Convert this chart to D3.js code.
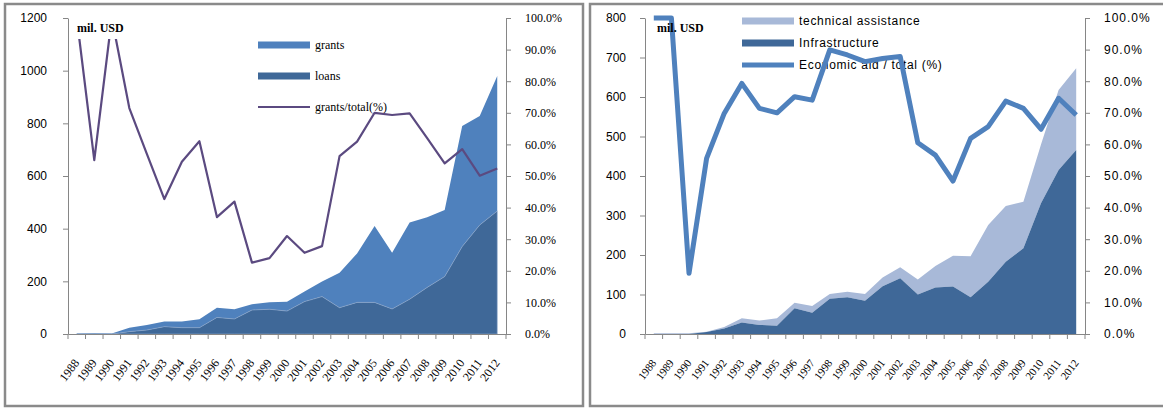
<!DOCTYPE html>
<html><head><meta charset="utf-8">
<script src="https://cdn.jsdelivr.net/npm/d3@7"></script>
<style>
html,body{margin:0;padding:0;background:#fff;}
svg{display:block;}
</style></head>
<body>
<svg id="c" width="1163" height="408"></svg>
<script>
// ---------- data ----------
const years = ["1988","1989","1990","1991","1992","1993","1994","1995","1996","1997","1998","1999","2000",
  "2001","2002","2003","2004","2005","2006","2007","2008","2009","2010","2011","2012"];

// left chart (mil. USD, %)
const loans  = [0,0,0,9,15,28,24,24,63,57,91,94,87,123,142,100,120,120,95,132,177,218,332,414,467];
const grants = [2,3,2,15,19,19,23,32,37,37,22,27,35,38,57,133,186,290,214,291,266,253,458,414,513];
const grantShare = [100,55,100,71.5,57,42.7,54.5,61,37,41.9,22.6,24,31,25.7,27.8,56.3,60.9,70,69.3,69.8,62,54,58.5,50.1,52.4];
const leftTicks = [0,200,400,600,800,1000,1200];

// right chart (mil. USD, %)
const infrastructure = [0,0,0,5,14,29,23,21,65,54,89,93,84,121,141,100,118,120,93,132,183,217,331,415,466];
const technical = [2,2,2,1,4,11,11,19,14,17,12,14,17,22,28,38,54,78,104,144,141,118,149,203,207];
const econShare = [100,100,19.2,55.6,69.8,79.3,71.4,70,75.1,74,89.9,88.3,86.2,87.2,87.8,60.5,56.6,48.4,61.9,65.6,73.7,71.4,64.8,74.6,69.3];
const rightTicks = [0,100,200,300,400,500,600,700,800];

const pctTicks = [0,10,20,30,40,50,60,70,80,90,100];

const svg = d3.select("#c");

function drawChart(o){
  const g = svg.append("g");
  g.append("rect").attr("x",o.px).attr("y",4).attr("width",o.pw).attr("height",402)
    .attr("fill","#fff").attr("stroke","#8a8a8a").attr("stroke-width",2.5);

  const x = d3.scaleBand().domain(years).range([o.x0,o.x1]).padding(0);
  const cx = d => x(d) + x.bandwidth()/2;
  const y = d3.scaleLinear().domain([0,o.ymax]).range([334,18]);
  const y2 = d3.scaleLinear().domain([0,100]).range([334,18]);

  const rows = years.map((yr,i)=>{ const r={year:yr}; o.series.forEach(s=>r[s.key]=s.values[i]); return r; });
  const stack = d3.stack().keys(o.series.map(s=>s.key))(rows);
  const area = d3.area().x(d=>cx(d.data.year)).y0(d=>y(d[0])).y1(d=>y(d[1]));
  stack.slice().reverse().forEach(layer=>{
    const s = o.series.find(s=>s.key===layer.key);
    g.append("path").datum(layer).attr("d",area).attr("fill",s.color)
      .attr("stroke",s.edge||"none").attr("stroke-width",0.6);
  });

  const ax = g.append("g").attr("transform","translate(0,334)")
    .call(d3.axisBottom(x).tickValues([]).tickSize(0).tickSizeOuter(0));
  ax.select(".domain").attr("stroke","#868686");
  const bounds = years.map(d=>x(d)).concat([o.x1]);
  g.append("g").selectAll("line").data(bounds).join("line")
    .attr("x1",d=>d).attr("x2",d=>d).attr("y1",334).attr("y2",339).attr("stroke","#868686");
  g.append("g").selectAll("text").data(years).join("text")
    .attr("transform",d=>`translate(${cx(d)+3},${363}) rotate(-53)`)
    .attr("text-anchor","end").attr("font-family","Liberation Serif").attr("font-size",o.yearSize)
    .attr("fill","#000").text(d=>d);

  const al = g.append("g").attr("transform",`translate(${o.x0},0)`)
    .call(d3.axisLeft(y).tickValues(o.ticks).tickSize(5).tickSizeOuter(0).tickPadding(o.lpad)
      .tickFormat(d3.format("d")));
  al.selectAll("path,line").attr("stroke","#868686");
  al.selectAll("text").attr("font-family","Liberation Sans").attr("font-size",12).attr("fill","#000");

  const ar = g.append("g").attr("transform",`translate(${o.x1},0)`)
    .call(d3.axisRight(y2).tickValues(pctTicks).tickSize(5).tickSizeOuter(0).tickPadding(14)
      .tickFormat(d=>d.toFixed(1)+"%"));
  ar.selectAll("path,line").attr("stroke","#868686");
  ar.selectAll("text").attr("font-family",o.pctFont).attr("font-size",12).attr("fill","#000")
    .attr("letter-spacing",o.pctSpacing);

  const lg = g.append("g");
  o.series.forEach((s,i)=>{
    lg.append("rect").attr("x",o.lx).attr("y",o.ly[i]-3.5).attr("width",52).attr("height",7).attr("fill",s.color);
    lg.append("text").attr("x",o.lx+57).attr("y",o.ly[i]+4).text(s.label)
      .attr("font-family",o.legFont).attr("font-size",12).attr("letter-spacing",o.legSpacing).attr("fill","#000");
  });
  lg.append("line").attr("x1",o.lx).attr("x2",o.lx+52).attr("y1",o.ly[2]).attr("y2",o.ly[2])
    .attr("stroke",o.lineColor).attr("stroke-width",o.lineWidth);
  lg.append("text").attr("x",o.lx+57).attr("y",o.ly[2]+4).text(o.lineLabel)
    .attr("font-family",o.legFont).attr("font-size",12).attr("letter-spacing",o.legSpacing).attr("fill","#000");

  const line = d3.line().x((d,i)=>cx(years[i])).y(d=>y2(d));
  g.append("path").datum(o.share).attr("d",line).attr("fill","none")
    .attr("stroke",o.lineColor).attr("stroke-width",o.lineWidth).attr("stroke-linejoin","round");

  if(o.unitBox){
    g.append("rect").attr("x",o.x0+2).attr("y",12).attr("width",66).attr("height",27).attr("fill","#fff");
  }
  g.append("text").attr("x",o.x0+o.unitDx).attr("y",32).text("mil. USD")
    .attr("font-family","Liberation Serif").attr("font-weight","bold").attr("font-size",12).attr("fill","#000");
}

drawChart({
  px:5, pw:578, x0:68, x1:506, ymax:1200, ticks:leftTicks, lpad:16,
  series:[
    {key:"loans", values:loans, color:"#3f6898", label:"loans", edge:"#8fa9cf"},
    {key:"grants", values:grants, color:"#4f81bd", label:"grants"}
  ],
  share:grantShare, lineColor:"#5b4a80", lineWidth:2.2, lineLabel:"grants/total(%)",
  lx:258, ly:[76,45,107], legFont:"Liberation Serif", legSpacing:0,
  pctFont:"Liberation Serif", pctSpacing:0, yearSize:12, unitBox:true, unitDx:9
});

drawChart({
  px:590, pw:590, x0:645, x1:1085, ymax:800, ticks:rightTicks, lpad:14,
  series:[
    {key:"infra", values:infrastructure, color:"#3f6898", label:"Infrastructure"},
    {key:"tech", values:technical, color:"#a8b9d8", label:"technical assistance"}
  ],
  share:econShare, lineColor:"#4f81bd", lineWidth:5, lineLabel:"Economic aid / total (%)",
  lx:742, ly:[43,21,65], legFont:"Liberation Sans", legSpacing:0.7,
  pctFont:"Liberation Sans", pctSpacing:1, yearSize:11, unitBox:false, unitDx:12
});
</script>
</body></html>
